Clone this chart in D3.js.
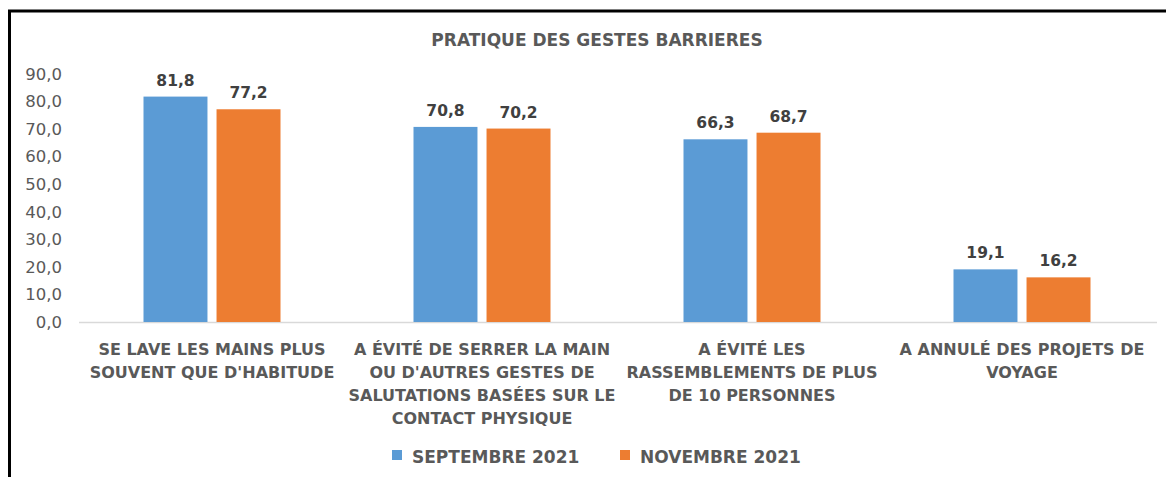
<!DOCTYPE html>
<html><head><meta charset="utf-8">
<script src="https://cdn.jsdelivr.net/npm/d3@7"></script>
<style>
body{margin:0;background:#fff;}
svg{display:block;font-family:"DejaVu Sans",sans-serif;}
</style></head>
<body><svg id="c" width="1166" height="477"></svg>
<script>
const title = "PRATIQUE DES GESTES BARRIERES";
const categories = [
  "SE LAVE LES MAINS PLUS\nSOUVENT QUE D'HABITUDE",
  "A ÉVITÉ DE SERRER LA MAIN\nOU D'AUTRES GESTES DE\nSALUTATIONS BASÉES SUR LE\nCONTACT PHYSIQUE",
  "A ÉVITÉ LES\nRASSEMBLEMENTS DE PLUS\nDE 10 PERSONNES",
  "A ANNULÉ DES PROJETS DE\nVOYAGE"
];
const seriesNames = ["SEPTEMBRE 2021", "NOVEMBRE 2021"];
const sept2021 = [81.8, 70.8, 66.3, 19.1];
const nov2021 = [77.2, 70.2, 68.7, 16.2];
const yTicks = [0,10,20,30,40,50,60,70,80,90];
const colors = ["#5b9bd5", "#ed7d31"];

const svg = d3.select("#c");
const fmt = v => d3.format(".1f")(v).replace(".", ",");

// frame
svg.append("line").attr("x1",8).attr("x2",1166).attr("y1",11).attr("y2",11).attr("stroke","#000").attr("stroke-width",3);
svg.append("line").attr("x1",9.5).attr("x2",9.5).attr("y1",10).attr("y2",477).attr("stroke","#000").attr("stroke-width",3);

const x = d3.scaleBand().domain(d3.range(categories.length)).range([77,1157]);
const y = d3.scaleLinear().domain([0,90]).range([322,74]);
const xs = d3.scaleBand().domain([0,1]).range([0,137]).paddingInner(17/137);

svg.append("text").attr("x",597).attr("y",46).attr("text-anchor","middle")
  .attr("font-size",17).attr("font-weight","bold").attr("fill","#595959").text(title);

const yAxis = svg.append("g").attr("transform","translate(76,0)")
  .call(d3.axisLeft(y).tickValues(yTicks).tickFormat(fmt).tickSize(0).tickPadding(14));
yAxis.select(".domain").remove();
yAxis.selectAll("text").attr("font-size",16.5).attr("fill","#595959").attr("font-family","DejaVu Sans, sans-serif");

svg.append("line").attr("x1",79).attr("x2",1157).attr("y1",y(0)+0.5).attr("y2",y(0)+0.5).attr("stroke","#d9d9d9").attr("stroke-width",1.5);

const series = [sept2021, nov2021];
series.forEach((vals, si) => {
  const g = svg.append("g");
  vals.forEach((v, i) => {
    const bx = x(i) + x.bandwidth()/2 - 68.5 + xs(si);
    g.append("rect").attr("x",bx).attr("y",y(v)).attr("width",xs.bandwidth()).attr("height",y(0)-y(v)).attr("fill",colors[si]);
    g.append("text").attr("x",bx+xs.bandwidth()/2).attr("y",y(v)-11).attr("text-anchor","middle")
      .attr("font-size",15.5).attr("font-weight","bold").attr("fill","#404040").text(fmt(v));
  });
});

categories.forEach((c, i) => {
  const t = svg.append("text").attr("x", x(i)+x.bandwidth()/2).attr("y",355).attr("text-anchor","middle")
    .attr("font-size",16).attr("font-weight","bold").attr("fill","#595959");
  c.split("\n").forEach((ln, j) => {
    t.append("tspan").attr("x", x(i)+x.bandwidth()/2).attr("dy", j===0?0:23).text(ln);
  });
});

// legend
const leg = [[392,0],[620,1]];
leg.forEach(([lx, si]) => {
  svg.append("rect").attr("x",lx).attr("y",450).attr("width",10).attr("height",10).attr("fill",colors[si]);
  svg.append("text").attr("x",lx+20).attr("y",463).attr("font-size",17).attr("font-weight","bold").attr("fill","#595959").text(seriesNames[si]);
});
</script></body></html>
